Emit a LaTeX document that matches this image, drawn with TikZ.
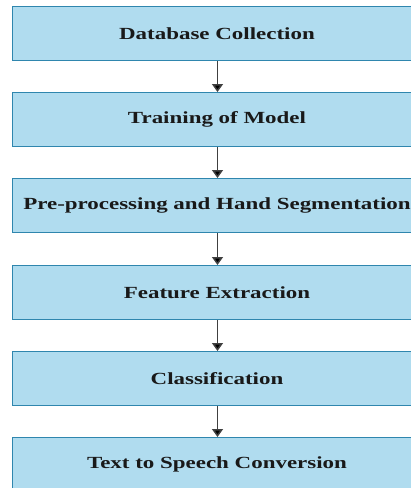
\documentclass[tikz,border=0pt]{standalone}
\usepackage{fontspec}
\usetikzlibrary{arrows.meta}
\newfontfamily\boxfont[FakeStretch=1.35]{Liberation Serif}
\definecolor{boxfill}{HTML}{B0DCEF}
\definecolor{boxline}{HTML}{2F86AE}
\definecolor{arrline}{HTML}{404040}
\tikzset{
  stepbox/.style={draw=boxline, line width=1pt, fill=boxfill, minimum width=409pt, minimum height=54pt, inner sep=0pt, anchor=north west, font=\boxfont\bfseries\fontsize{17}{20}\selectfont, text=black!90},
  flowarrow/.style={draw=arrline, line width=1.5pt, -{Triangle[width=11pt,length=8pt,fill=black]}}
}
\begin{document}
\begin{tikzpicture}[x=1pt,y=1pt]
\useasboundingbox (0,0) rectangle (411,-488);
\clip (0,0) rectangle (411,-488);
\node[stepbox] (b1) at (12,-6) {Database Collection};
\node[stepbox] (b2) at (12,-92) {Training of Model};
\node[stepbox] (b3) at (12,-178) {Pre-processing and Hand Segmentation};
\node[stepbox] (b4) at (12,-265) {Feature Extraction};
\node[stepbox] (b5) at (12,-351) {Classification};
\node[stepbox] (b6) at (12,-437) {Text to Speech Conversion};
\foreach \a/\b in {b1/b2,b2/b3,b3/b4,b4/b5,b5/b6}{
  \draw[flowarrow] ([xshift=0.5pt]\a.south) -- ([xshift=0.5pt]\b.north);
}
\end{tikzpicture}
\end{document}
